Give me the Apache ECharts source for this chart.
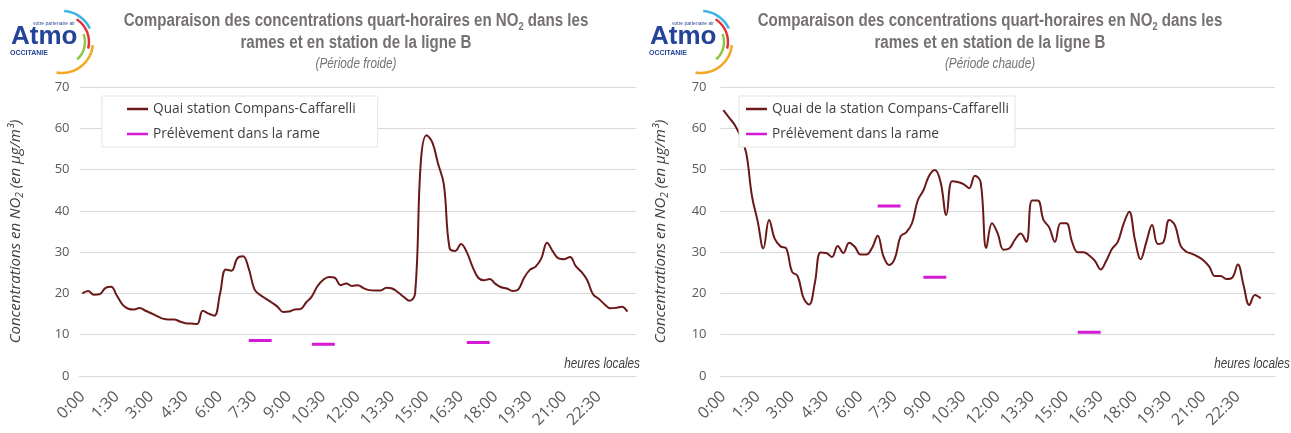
<!DOCTYPE html>
<html>
<head>
<meta charset="utf-8">
<script src="https://cdn.jsdelivr.net/npm/echarts@6/dist/echarts.min.js"></script>
<style>
    body { margin: 0; background: #fff; }
    .panel { position: absolute; top: 0; height: 433px; }
    #froid { left: 0; width: 645px; }
    #chaud { left: 645px; width: 646px; }
</style>
</head>
<body>
<div id="froid" class="panel"></div>
<div id="chaud" class="panel"></div>
<script>
// quarts d'heure 0:00 .. 23:45, plus une case vide en fin d'axe
const heures = [];
for (let h = 0; h < 24; h++) {
    for (let m = 0; m < 60; m += 15) {
        heures.push(h + ':' + (m === 0 ? '00' : m));
    }
}
heures.push('');

const yTicks = [0, 10, 20, 30, 40, 50, 60, 70];

// Période froide
const quaiFroid = [20, 20.6, 19.7, 19.8, 21.3, 21.6, 19.5, 17.3, 16.3, 16.1,
    16.5, 15.8, 15.2, 14.5, 13.9, 13.7, 13.7, 13.2, 12.8, 12.7,
    12.6, 15.8, 15.1, 14.6, 20, 25.8, 25.5, 28.5, 29, 26,
    21, 19.6, 18.7, 17.8, 16.8, 15.5, 15.6, 16.1, 16.2, 17.8,
    19.3, 21.8, 23.3, 24, 23.8, 22, 22.4, 21.8, 22, 21.3,
    20.8, 20.7, 20.7, 21.4, 21.2, 20.3, 19.2, 18.2, 20, 52,
    58.3, 56.6, 51.4, 46.5, 31, 30.3, 32, 30, 26.5, 23.8,
    23.2, 23.5, 22.3, 21.5, 21.2, 20.6, 21, 23.8, 25.7, 26.5,
    28.5, 32.3, 30.2, 28.5, 28.3, 28.8, 26.6, 25.2, 23.2, 19.8,
    18.7, 17.4, 16.4, 16.5, 16.8, 15.6];
const rameFroidDebut = [29, 40, 67];
const rameFroidValeur = [8.6, 7.7, 8.1];

// Période chaude
const quaiChaud = [64.4, 62.6, 60.8, 58, 54, 43.6, 37.5, 30.9, 37.8, 33.2,
    31.4, 30.9, 25.3, 24.2, 19, 17.3, 22.5, 29.9, 29.8, 28.8,
    31.5, 29.8, 32.3, 31.3, 29.4, 29.4, 31, 34, 29, 26.9,
    28.5, 33.8, 34.8, 37, 42.5, 45, 48.5, 49.9, 47, 39,
    47.2, 47, 46.5, 45.5, 48.5, 47, 31, 37, 34.5, 30.6,
    30.9, 33, 34.5, 32.5, 42.5, 42.5, 37.8, 36, 32.5, 37,
    37, 32.5, 30, 30, 29.2, 27.9, 25.8, 28, 30.8, 32.5,
    36.8, 39.8, 33, 28.3, 32.5, 36.6, 32, 32.5, 37.8, 36.5,
    31.5, 30.1, 29.6, 28.9, 28, 26.5, 24.2, 24.2, 23.5, 23.8,
    27, 22, 17.2, 19.6, 18.8];
const rameChaudDebut = [27, 35, 62];
const rameChaudValeur = [41.2, 23.9, 10.6];

const rameDuree = 5; // points par prélèvement

function rameSerie(debuts, valeurs) {
    const data = heures.map(() => null);
    debuts.forEach((d, k) => {
        for (let i = d; i < d + rameDuree; i++) data[i] = valeurs[k];
    });
    return data;
}

const uiFont = '"Open Sans", "Noto Sans", sans-serif';
const arial = '"Liberation Sans", Arial, sans-serif';
const narrowX = 0.84; // pas d'Arial Narrow : on resserre Liberation Sans

function logo(x, y) {
    return {
        type: 'group', x: x, y: y, silent: true,
        children: [
            { type: 'arc', shape: { cx: 54, cy: 32, r: 31, startAngle: -1.5, endAngle: -0.45 }, style: { stroke: '#41b4e6', lineWidth: 2.5, fill: null } },
            { type: 'arc', shape: { cx: 54, cy: 32, r: 27, startAngle: -1.0, endAngle: 0.25 }, style: { stroke: '#e2333b', lineWidth: 2.5, fill: null } },
            { type: 'arc', shape: { cx: 54, cy: 32, r: 23, startAngle: -0.35, endAngle: 0.85 }, style: { stroke: '#8dc63f', lineWidth: 2.5, fill: null } },
            { type: 'arc', shape: { cx: 54, cy: 32, r: 31, startAngle: 0.1, endAngle: 1.75 }, style: { stroke: '#f5a623', lineWidth: 2.5, fill: null } },
            { type: 'text', x: 25, y: 11, style: { text: 'votre partenaire air', fontSize: 5, fill: '#2b4a9b', fontFamily: 'Arial' } },
            { type: 'text', x: 3, y: 14, style: { text: 'Atmo', fontSize: 26, fontWeight: 'bold', fill: '#24449a', fontFamily: arial } },
            { type: 'text', x: 2, y: 40, style: { text: 'OCCITANIE', fontSize: 7, fontWeight: 'bold', fill: '#24449a', fontFamily: arial } }
        ]
    };
}

function buildOption(cfg) {
    return {
        animation: false,
        grid: { left: cfg.gridLeft, right: cfg.gridRight, top: 87, bottom: 57 },
        legend: {
            orient: 'vertical',
            left: cfg.legendLeft,
            top: 96,
            padding: cfg.legendPadding,
            itemGap: 9,
            itemWidth: 21,
            itemHeight: 2.5,
            icon: 'rect',
            backgroundColor: '#fff',
            borderColor: '#e3e3e3',
            borderWidth: 1,
            textStyle: { fontFamily: uiFont, fontSize: 13.7, color: '#404040', lineHeight: 16 }
        },
        graphic: [
            logo(cfg.logoX, 10),
            {
                type: 'text', x: cfg.titleX, y: 21, scaleX: narrowX,
                style: {
                    text: '{t|Comparaison des concentrations quart-horaires en NO}{s|2}{t| dans les}',
                    align: 'center', verticalAlign: 'middle',
                    rich: {
                        t: { fontSize: 18, fontWeight: 'bold', fontFamily: arial, fill: '#767171', lineHeight: 22 },
                        s: { fontSize: 11, fontWeight: 'bold', fontFamily: arial, fill: '#767171', lineHeight: 12, verticalAlign: 'bottom' }
                    }
                }
            },
            {
                type: 'text', x: cfg.titleX, y: 43, scaleX: narrowX,
                style: {
                    text: 'rames et en station de la ligne B', align: 'center', verticalAlign: 'middle',
                    fontSize: 18, fontWeight: 'bold', fontFamily: arial, fill: '#767171'
                }
            },
            {
                type: 'text', x: cfg.titleX, y: 64, scaleX: narrowX,
                style: {
                    text: cfg.periode, align: 'center', verticalAlign: 'middle',
                    fontSize: 14, fontStyle: 'italic', fontFamily: arial, fill: '#767171'
                }
            },
            {
                type: 'text', x: cfg.heuresX, y: 364, scaleX: narrowX,
                style: {
                    text: 'heures locales', align: 'right', verticalAlign: 'middle',
                    fontSize: 14, fontStyle: 'italic', fontFamily: arial, fill: '#404040'
                }
            }
        ],
        xAxis: {
            type: 'category',
            data: heures,
            boundaryGap: true,
            axisTick: { show: false },
            axisLine: { lineStyle: { color: '#d9d9d9' } },
            axisLabel: {
                interval: 5,
                rotate: 45,
                margin: 18,
                fontSize: 16,
                fontFamily: uiFont,
                color: '#595959'
            }
        },
        yAxis: {
            type: 'value',
            min: yTicks[0],
            max: yTicks[yTicks.length - 1],
            interval: 10,
            axisLine: { show: false },
            axisTick: { show: false },
            axisLabel: { fontSize: 13, fontFamily: uiFont, color: '#595959', margin: cfg.labelMargin },
            splitLine: { lineStyle: { color: '#d9d9d9' } },
            name: '{a|Concentrations en NO}{s|2}{a| (en µg/m³)}',
            nameLocation: 'middle',
            nameGap: cfg.nameGap,
            nameRotate: 90,
            nameTextStyle: {
                rich: {
                    a: { fontSize: 15, fontStyle: 'italic', fontFamily: uiFont, color: '#404040', lineHeight: 20 },
                    s: { fontSize: 10, fontStyle: 'italic', fontFamily: uiFont, color: '#404040', lineHeight: 10, verticalAlign: 'bottom' }
                }
            }
        },
        series: [
            {
                name: cfg.quaiNom,
                type: 'line',
                data: cfg.quai,
                smooth: 0.4,
                symbol: 'none',
                itemStyle: { color: '#6b1818' },
                lineStyle: { color: '#6b1818', width: 2 }
            },
            {
                name: 'Prélèvement dans la rame',
                type: 'line',
                data: rameSerie(cfg.rameDebut, cfg.rameValeur),
                symbol: 'none',
                connectNulls: false,
                itemStyle: { color: '#d41ad4' },
                lineStyle: { color: '#d41ad4', width: 3, cap: 'butt' }
            }
        ]
    };
}

const chartFroid = echarts.init(document.getElementById('froid'));
chartFroid.setOption(buildOption({
    gridLeft: 72, gridRight: 9, labelMargin: 10, nameGap: 54,
    legendLeft: 102, legendPadding: [5, 22, 5, 25],
    logoX: 8, titleX: 356, heuresX: 640,
    periode: '(Période froide)',
    quaiNom: 'Quai station Compans-Caffarelli',
    quai: quaiFroid, rameDebut: rameFroidDebut, rameValeur: rameFroidValeur
}));

const chartChaud = echarts.init(document.getElementById('chaud'));
chartChaud.setOption(buildOption({
    gridLeft: 64, gridRight: 16, labelMargin: 14, nameGap: 50,
    legendLeft: 94, legendPadding: [5, 6, 5, 7],
    logoX: 2, titleX: 345, heuresX: 645,
    periode: '(Période chaude)',
    quaiNom: 'Quai de la station Compans-Caffarelli',
    quai: quaiChaud, rameDebut: rameChaudDebut, rameValeur: rameChaudValeur
}));
</script>
</body>
</html>
